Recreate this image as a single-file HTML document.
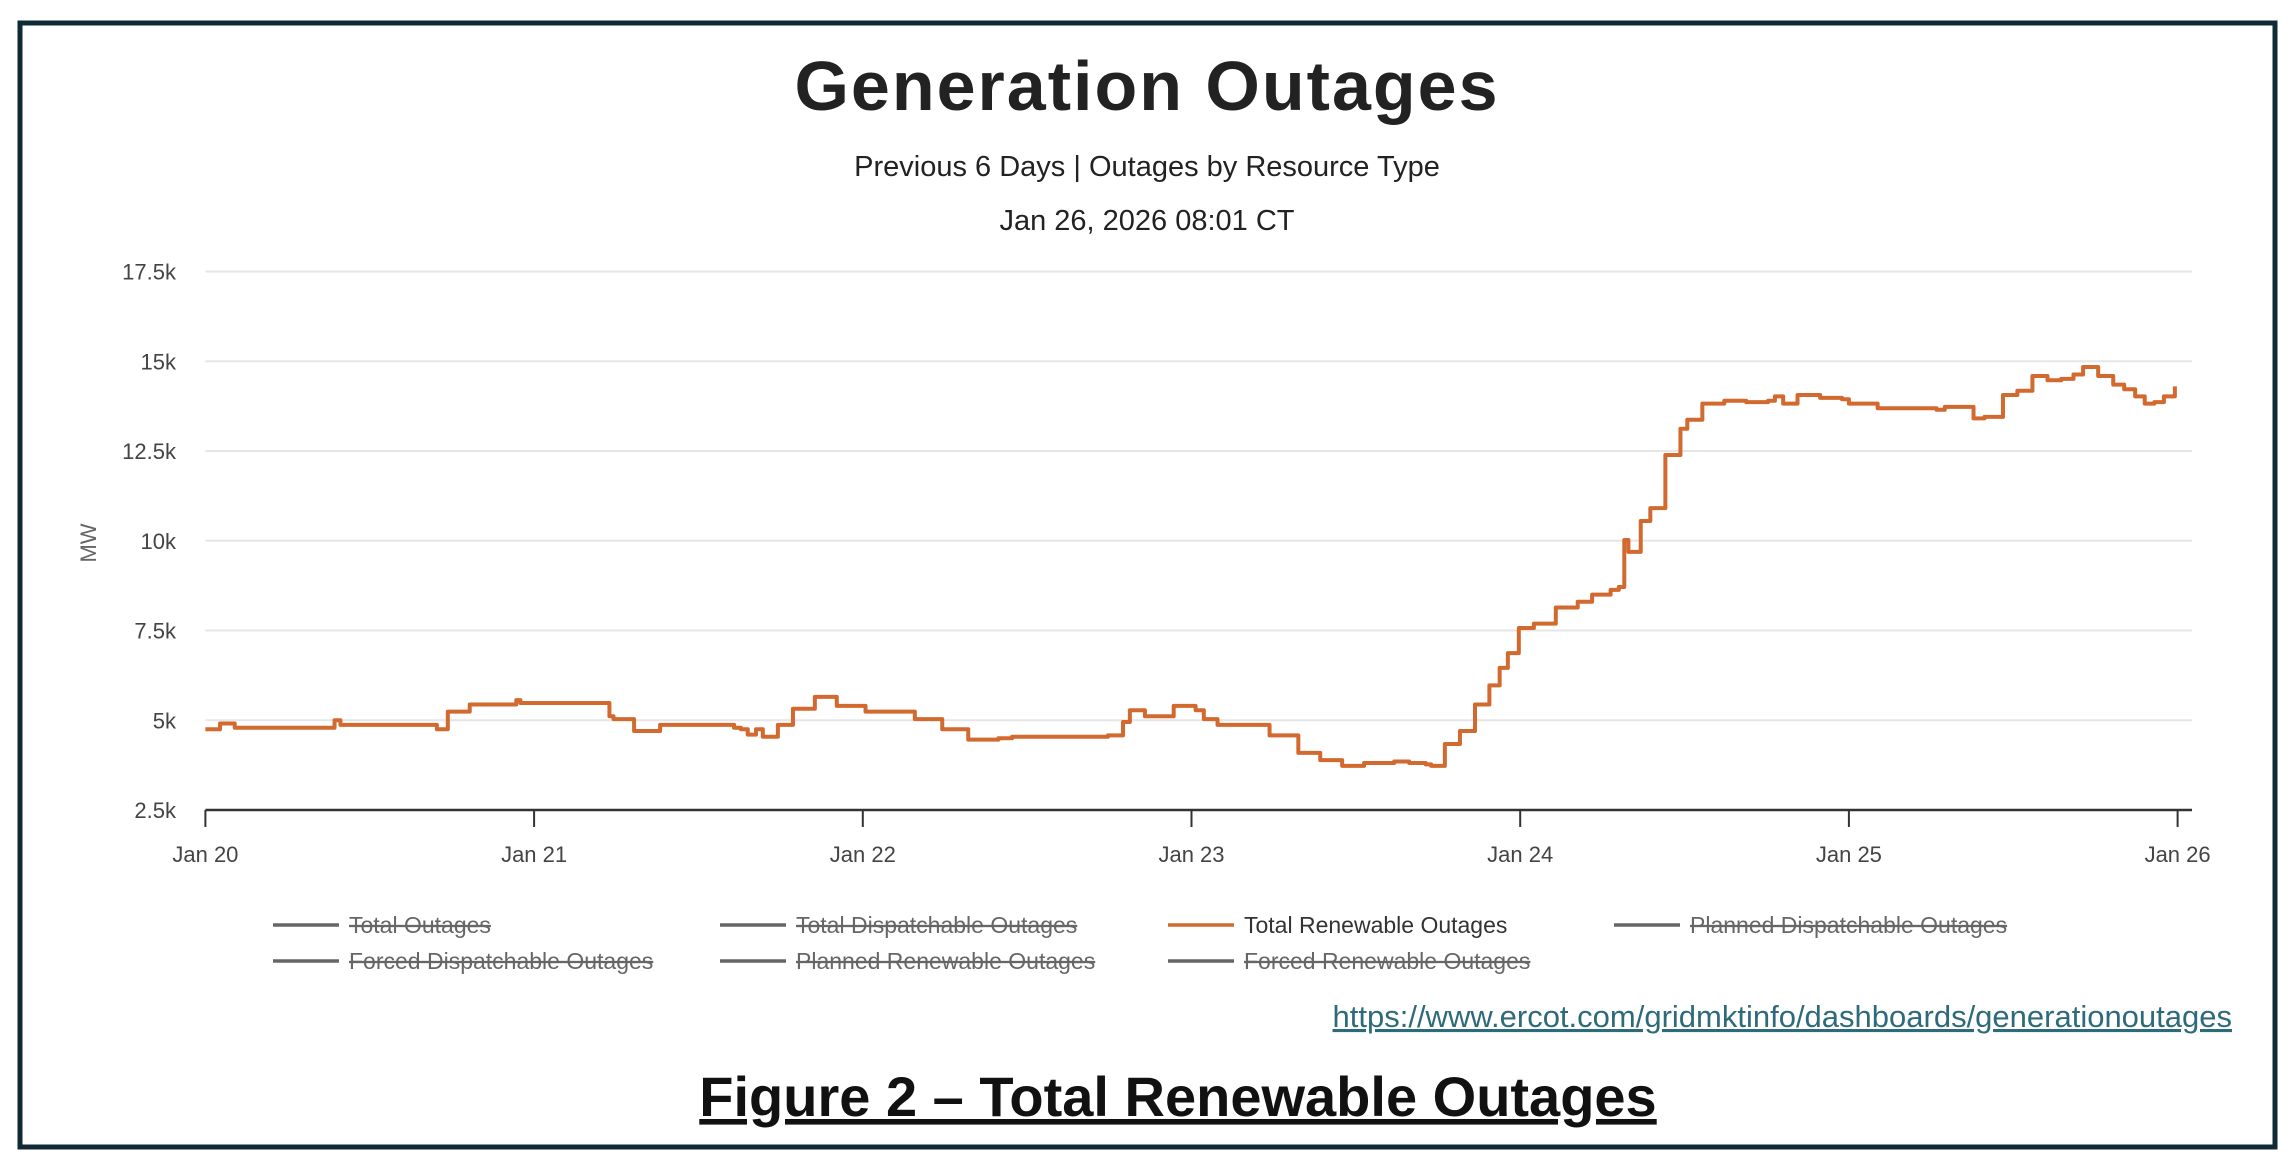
<!DOCTYPE html>
<html><head><meta charset="utf-8"><style>
html,body{margin:0;padding:0;background:#fff;}
svg{display:block;font-family:"Liberation Sans",sans-serif;}
</style></head><body>
<svg id="chart" width="2295" height="1155" viewBox="0 0 2295 1155">
<rect x="20" y="23" width="2255" height="1124" fill="#fff" stroke="#0f2a35" stroke-width="5"/>
<text x="1147" y="110" text-anchor="middle" font-size="70" font-weight="bold" letter-spacing="2" fill="#222">Generation Outages</text>
<text x="1147" y="176" text-anchor="middle" font-size="29" fill="#222">Previous 6 Days | Outages by Resource Type</text>
<text x="1147" y="230" text-anchor="middle" font-size="29" fill="#222">Jan 26, 2026 08:01 CT</text>
<g id="grid"></g>
<g id="yticks"></g>
<g id="xaxis"></g>
<text transform="translate(96,543) rotate(-90)" text-anchor="middle" font-size="22" fill="#666">MW</text>
<path id="series" fill="none" stroke="#d2692f" stroke-width="4" stroke-linejoin="round"/>
<g id="legend"></g>
<text x="2232" y="1027" text-anchor="end" font-size="31" fill="#2e6b7a" text-decoration="underline">https://www.ercot.com/gridmktinfo/dashboards/generationoutages</text>
<text x="1178" y="1116" text-anchor="middle" font-size="56" font-weight="bold" fill="#111" text-decoration="underline">Figure 2 – Total Renewable Outages</text>
</svg>
<script>
const hours=[0,1.07,2.14,7.5,9.43,9.86,16.6,16.9,17.7,19.3,22.7,23.0,29.5,29.8,31.3,33.2,35.4,38.6,39.1,39.6,40.2,40.7,41.8,42.9,44.5,44.8,46.1,48.2,51.8,52.0,53.8,54.1,55.7,57.9,58.9,65.9,66.1,67.0,67.5,68.6,69.3,70.7,72.3,72.9,73.9,77.7,78.0,79.8,80.0,81.4,83.0,84.6,86.8,87.9,89.1,89.5,90.5,91.6,92.7,93.75,94.5,95.1,95.9,97.0,98.6,100.2,101.25,102.6,103.2,103.6,103.9,104.8,105.5,106.6,107.7,108.2,109.3,110.9,112.5,114.1,114.6,115.2,116.25,117.9,119.5,120.0,122.1,124.3,126.4,127.0,129.1,129.9,131.25,132.3,133.4,134.5,135.5,136.4,137.1,138.2,139.3,140.1,140.9,141.6,142.3,143.0,143.8];
const values=[4750,4910,4790,4790,5000,4870,4870,4750,5240,5440,5560,5480,5110,5030,4700,4870,4870,4790,4750,4600,4750,4540,4870,5320,5650,5650,5400,5240,5030,5030,4750,4750,4460,4500,4540,4580,4580,4950,5280,5110,5110,5400,5280,5030,4870,4580,4580,4090,4090,3890,3730,3810,3850,3810,3770,3730,4340,4700,5440,5970,6460,6870,7570,7690,8140,8300,8500,8630,8710,10020,9690,10550,10910,12390,13120,13370,13820,13900,13860,13900,14020,13820,14060,13980,13940,13820,13690,13690,13650,13730,13410,13450,14060,14180,14590,14470,14510,14630,14840,14590,14350,14220,14020,13820,13860,14020,14300,14340];
const yTicks=[2500,5000,7500,10000,12500,15000,17500];
const yTickLabels=["2.5k","5k","7.5k","10k","12.5k","15k","17.5k"];
const xTickLabels=["Jan 20","Jan 21","Jan 22","Jan 23","Jan 24","Jan 25","Jan 26"];
const legendLabels=["Total Outages","Total Dispatchable Outages","Total Renewable Outages","Planned Dispatchable Outages","Forced Dispatchable Outages","Planned Renewable Outages","Forced Renewable Outages"];
const legendActive=[false,false,true,false,false,false,false];

const NS="http://www.w3.org/2000/svg";
const X0=205.4,X1=2177.6,Y0=810,Y1=271.5;
const xs=h=>X0+(h/144)*(X1-X0);
const ys=v=>Y0-(v-2500)/15000*(Y0-Y1);
function mk(tag,attrs,parent){const e=document.createElementNS(NS,tag);for(const k in attrs)e.setAttribute(k,attrs[k]);parent.appendChild(e);return e;}
const grid=document.getElementById('grid'),yt=document.getElementById('yticks'),xa=document.getElementById('xaxis'),lg=document.getElementById('legend');
yTicks.forEach((v,i)=>{
  if(i>0){const l=mk('line',{x1:X0,x2:2192,y1:ys(v),y2:ys(v),stroke:'#e6e6e6','stroke-width':2},grid);
  
  }
  const t=mk('text',{x:176,y:ys(v)+8,'text-anchor':'end','font-size':22,fill:'#444'},yt);
  t.textContent=yTickLabels[i];
  
  
});
const ax=mk('line',{x1:X0,x2:2192,y1:Y0,y2:Y0,stroke:'#333','stroke-width':2.5},xa);


xTickLabels.forEach((lab,i)=>{
  const x=xs(i*24);
  const tk=mk('line',{x1:x,x2:x,y1:Y0,y2:Y0+17,stroke:'#333','stroke-width':2},xa);
  
  
  const t=mk('text',{x:x,y:862,'text-anchor':'middle','font-size':22,fill:'#444'},xa);
  t.textContent=lab;
  
  
});
let d='';
hours.forEach((h,i)=>{
  const x=xs(h),y=ys(values[i]);
  if(i===0)d+='M'+x+' '+y;else d+=' L'+x+' '+ys(values[i-1])+' L'+x+' '+y;
});
document.getElementById('series').setAttribute('d',d);
const colX=[273,720,1168,1614],rowY=[925,961];
legendLabels.forEach((lab,i)=>{
  const cx=colX[i%4],cy=rowY[Math.floor(i/4)];
  const g=mk('g',{},lg);
  
  
  mk('line',{x1:cx,x2:cx+66,y1:cy,y2:cy,stroke:legendActive[i]?'#d2692f':'#666','stroke-width':3.5},g);
  const t=mk('text',{x:cx+76,y:cy+8,'font-size':23,fill:legendActive[i]?'#333':'#666','text-decoration':legendActive[i]?'none':'line-through'},g);
  t.textContent=lab;
});
</script>
</body></html>
